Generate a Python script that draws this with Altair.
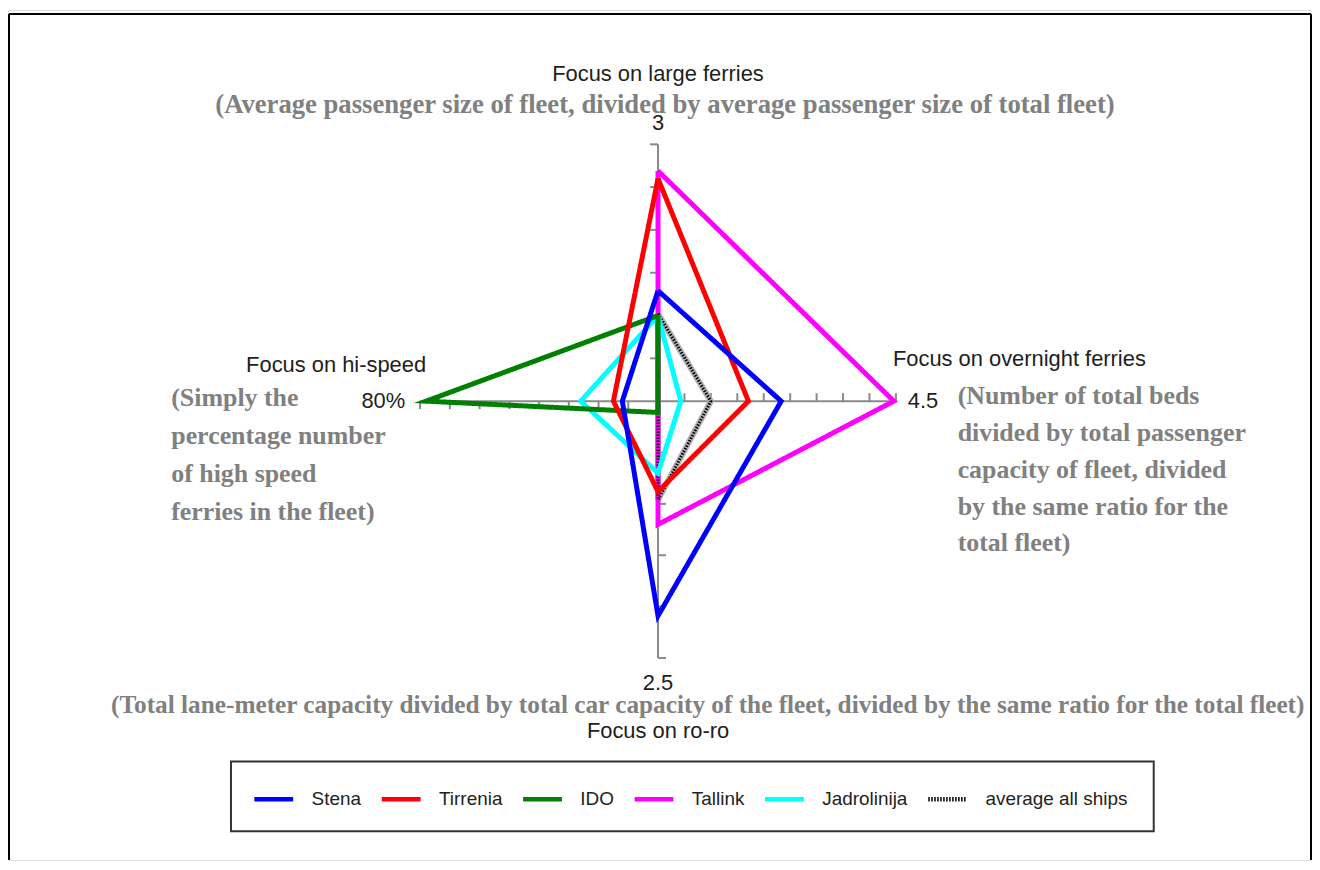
import altair as alt
import pandas as pd

# ---------------- data ----------------
axis_names = ["Focus on large ferries", "Focus on overnight ferries", "Focus on ro-ro", "Focus on hi-speed"]
axis_max = [3.0, 4.5, 2.5, 80.0]
axis_step = [0.5, 0.5, 0.5, 10.0]
axis_end_labels = ["3", "4.5", "2.5", "80%"]
axis_dir_x = [0, 1, 0, -1]
axis_dir_y = [1, 0, -1, 0]

series = ["Stena", "Tirrenia", "IDO", "Tallink", "Jadrolinija", "average all ships"]
colors = ["#0000ff", "#ff0000", "#008000", "#ff00ff", "#00ffff", "#000000"]

# values in axis order: large ferries, overnight ferries, ro-ro, hi-speed (%)
stena = [1.29, 2.33, 2.09, 12]
tirrenia = [2.60, 1.71, 0.88, 15]
ido = [1.00, 0.00, 0.11, 78]
tallink = [2.69, 4.46, 1.20, 0]
jadrolinija = [1.00, 0.43, 0.70, 26]
average_all = [1.02, 1.00, 0.96, 0]
values = [stena, tirrenia, ido, tallink, jadrolinija, average_all]

draw_order = ["Tallink", "average all ships", "Jadrolinija", "IDO", "Tirrenia", "Stena"]

# ---------------- layout ----------------
W, H = 1310, 854
CX, CY = 653, 393
PXU, PYU = 239.0, 258.0
XD = [-CX / PXU, (W - CX) / PXU]
YD = [-(H - CY) / PYU, CY / PYU]
TICK = 8

xs = alt.Scale(domain=XD, nice=False, zero=False)
ys = alt.Scale(domain=YD, nice=False, zero=False)

rows = []
for s, vals in zip(series, values):
    for k in range(5):
        i = k % 4
        rows.append({"series": s, "k": k, "value": vals[i], "vmax": axis_max[i],
                     "dirx": axis_dir_x[i], "diry": axis_dir_y[i]})
poly = pd.DataFrame(rows)

axis_df = pd.DataFrame({"name": axis_names, "dirx": axis_dir_x, "diry": axis_dir_y})

trows = []
for i in range(4):
    n = int(round(axis_max[i] / axis_step[i]))
    for j in range(1, n + 1):
        trows.append({"t": j * axis_step[i], "vmax": axis_max[i],
                      "dirx": axis_dir_x[i], "diry": axis_dir_y[i]})
ticks = pd.DataFrame(trows)

AX_COLOR = "#8a8a8a"

axis_lines = alt.Chart(axis_df).mark_rule(color=AX_COLOR, strokeWidth=2).transform_calculate(
    x0="0", y0="0", x1="datum.dirx", y1="datum.diry"
).encode(
    x=alt.X("x0:Q", scale=xs, axis=None), y=alt.Y("y0:Q", scale=ys, axis=None),
    x2="x1:Q", y2="y1:Q",
)

tick_marks = alt.Chart(ticks).mark_rule(color=AX_COLOR, strokeWidth=2).transform_calculate(
    tx="datum.t / datum.vmax * datum.dirx",
    ty="datum.t / datum.vmax * datum.diry",
).transform_calculate(
    tx2=f"datum.tx - datum.diry * {TICK} / {PXU}",
    ty2=f"datum.ty + datum.dirx * {TICK} / {PYU}",
).encode(
    x=alt.X("tx:Q", scale=xs, axis=None), y=alt.Y("ty:Q", scale=ys, axis=None),
    x2="tx2:Q", y2="ty2:Q",
)

leg = dict(orient="none", legendX=245, legendY=771, direction="horizontal", title=None,
           symbolType="stroke", symbolSize=1521, symbolStrokeWidth=4.5,
           labelFont="Liberation Sans", labelFontSize=19, labelColor="#222222",
           labelOffset=16, columnPadding=11, padding=0)

color_enc = alt.Color("series:N", scale=alt.Scale(domain=series, range=colors),
                      legend=alt.Legend(**leg))
dash_enc = alt.StrokeDash("series:N",
                          scale=alt.Scale(domain=series, range=[[1, 0]] * 5 + [[1.5, 1.5]]),
                          legend=alt.Legend(**leg))

base = alt.Chart(poly).transform_calculate(
    px="datum.value / datum.vmax * datum.dirx",
    py="datum.value / datum.vmax * datum.diry",
)

layers = []
# grey band under the average line
layers.append(base.transform_filter(alt.datum.series == "average all ships").mark_line(
    color="#b0b0b0", strokeWidth=6, strokeJoin="miter").encode(
    x=alt.X("px:Q", scale=xs, axis=None), y=alt.Y("py:Q", scale=ys, axis=None),
    order="k:Q"))

series_layers = []
for s in draw_order:
    sw = 3 if s == "average all ships" else 5
    series_layers.append(base.transform_filter(alt.datum.series == s).mark_line(
        strokeWidth=sw, strokeJoin="miter", strokeMiterLimit=20).encode(
        x=alt.X("px:Q", scale=xs, axis=None), y=alt.Y("py:Q", scale=ys, axis=None),
        order="k:Q", color=color_enc, strokeDash=dash_enc))

one = pd.DataFrame({"a": [0]})


def label(text, ax, ay, dx, dy, align, baseline, size, color, weight="normal",
          font="Liberation Sans", line_height=None):
    df = pd.DataFrame({"text": [text], "ax": [ax], "ay": [ay]})
    kw = dict(dx=dx, dy=dy, align=align, baseline=baseline, fontSize=size,
              color=color, fontWeight=weight, font=font, lineBreak="\n")
    if line_height:
        kw["lineHeight"] = line_height
    return alt.Chart(df).mark_text(**kw).encode(
        x=alt.X("ax:Q", scale=xs, axis=None), y=alt.Y("ay:Q", scale=ys, axis=None),
        text="text:N")


DARK = "#1e1e1e"
GREY = "#808080"
SERIF = "Liberation Serif"

texts = [
    # top axis
    label(axis_names[0], 0, 1, 0, -71, "center", "middle", 22, DARK),
    label("(Average passenger size of fleet, divided by average passenger size of total fleet)",
          0, 1, 7, -39, "center", "middle", 26.8, GREY, "bold", SERIF),
    label(axis_end_labels[0], 0, 1, 0, -21, "center", "middle", 22, DARK),
    # right axis
    label(axis_names[1], 1, 0, -3, -42, "left", "middle", 22, DARK),
    label(axis_end_labels[1], 1, 0, 12, 0, "left", "middle", 22, DARK),
    label("(Number of total beds\ndivided by total passenger\ncapacity of fleet, divided\nby the same ratio for the\ntotal fleet)",
          1, 0, 62, -18, "left", "top", 26, GREY, "bold", SERIF, 37),
    # bottom axis
    label(axis_end_labels[2], 0, -1, 0, 25, "center", "middle", 22, DARK),
    label("(Total lane-meter capacity divided by total car capacity of the fleet, divided by the same ratio for the total fleet)",
          0, -1, 50, 47, "center", "middle", 25.4, GREY, "bold", SERIF),
    label(axis_names[2], 0, -1, 0, 73, "center", "middle", 22, DARK),
    # left axis
    label(axis_end_labels[3], -1, 0, -15, 0, "right", "middle", 22, DARK),
    label(axis_names[3], -1, 0, 6, -36, "right", "middle", 22, DARK),
    label("(Simply the\npercentage number\nof high speed\nferries in the fleet)",
          -1, 0, -250, -16, "left", "top", 26, GREY, "bold", SERIF, 38),
]

frame_left = alt.Chart(one).mark_rule(color="#000000", strokeWidth=2).encode(
    x=alt.value(1), y=alt.value(4), y2=alt.value(H))
frame_top = alt.Chart(one).mark_rule(color="#000000", strokeWidth=2).encode(
    x=alt.value(1), x2=alt.value(W - 1), y=alt.value(4))
frame_right = alt.Chart(one).mark_rule(color="#000000", strokeWidth=2).encode(
    x=alt.value(W - 1), y=alt.value(4), y2=alt.value(H))
legend_box = alt.Chart(one).mark_rect(fill="#ffffff", stroke="#333333", strokeWidth=2).encode(
    x=alt.value(224), x2=alt.value(1151), y=alt.value(755), y2=alt.value(825))

chart = alt.layer(
    frame_left, frame_top, frame_right, legend_box,
    axis_lines, tick_marks, *layers, *series_layers, *texts,
).properties(
    width=W, height=H, autosize=alt.AutoSizeParams(type="none"), padding=0,
).configure_view(stroke=None).configure(background="#ffffff")

chart.save("out.html", embed_options={"renderer": "svg", "actions": False})
